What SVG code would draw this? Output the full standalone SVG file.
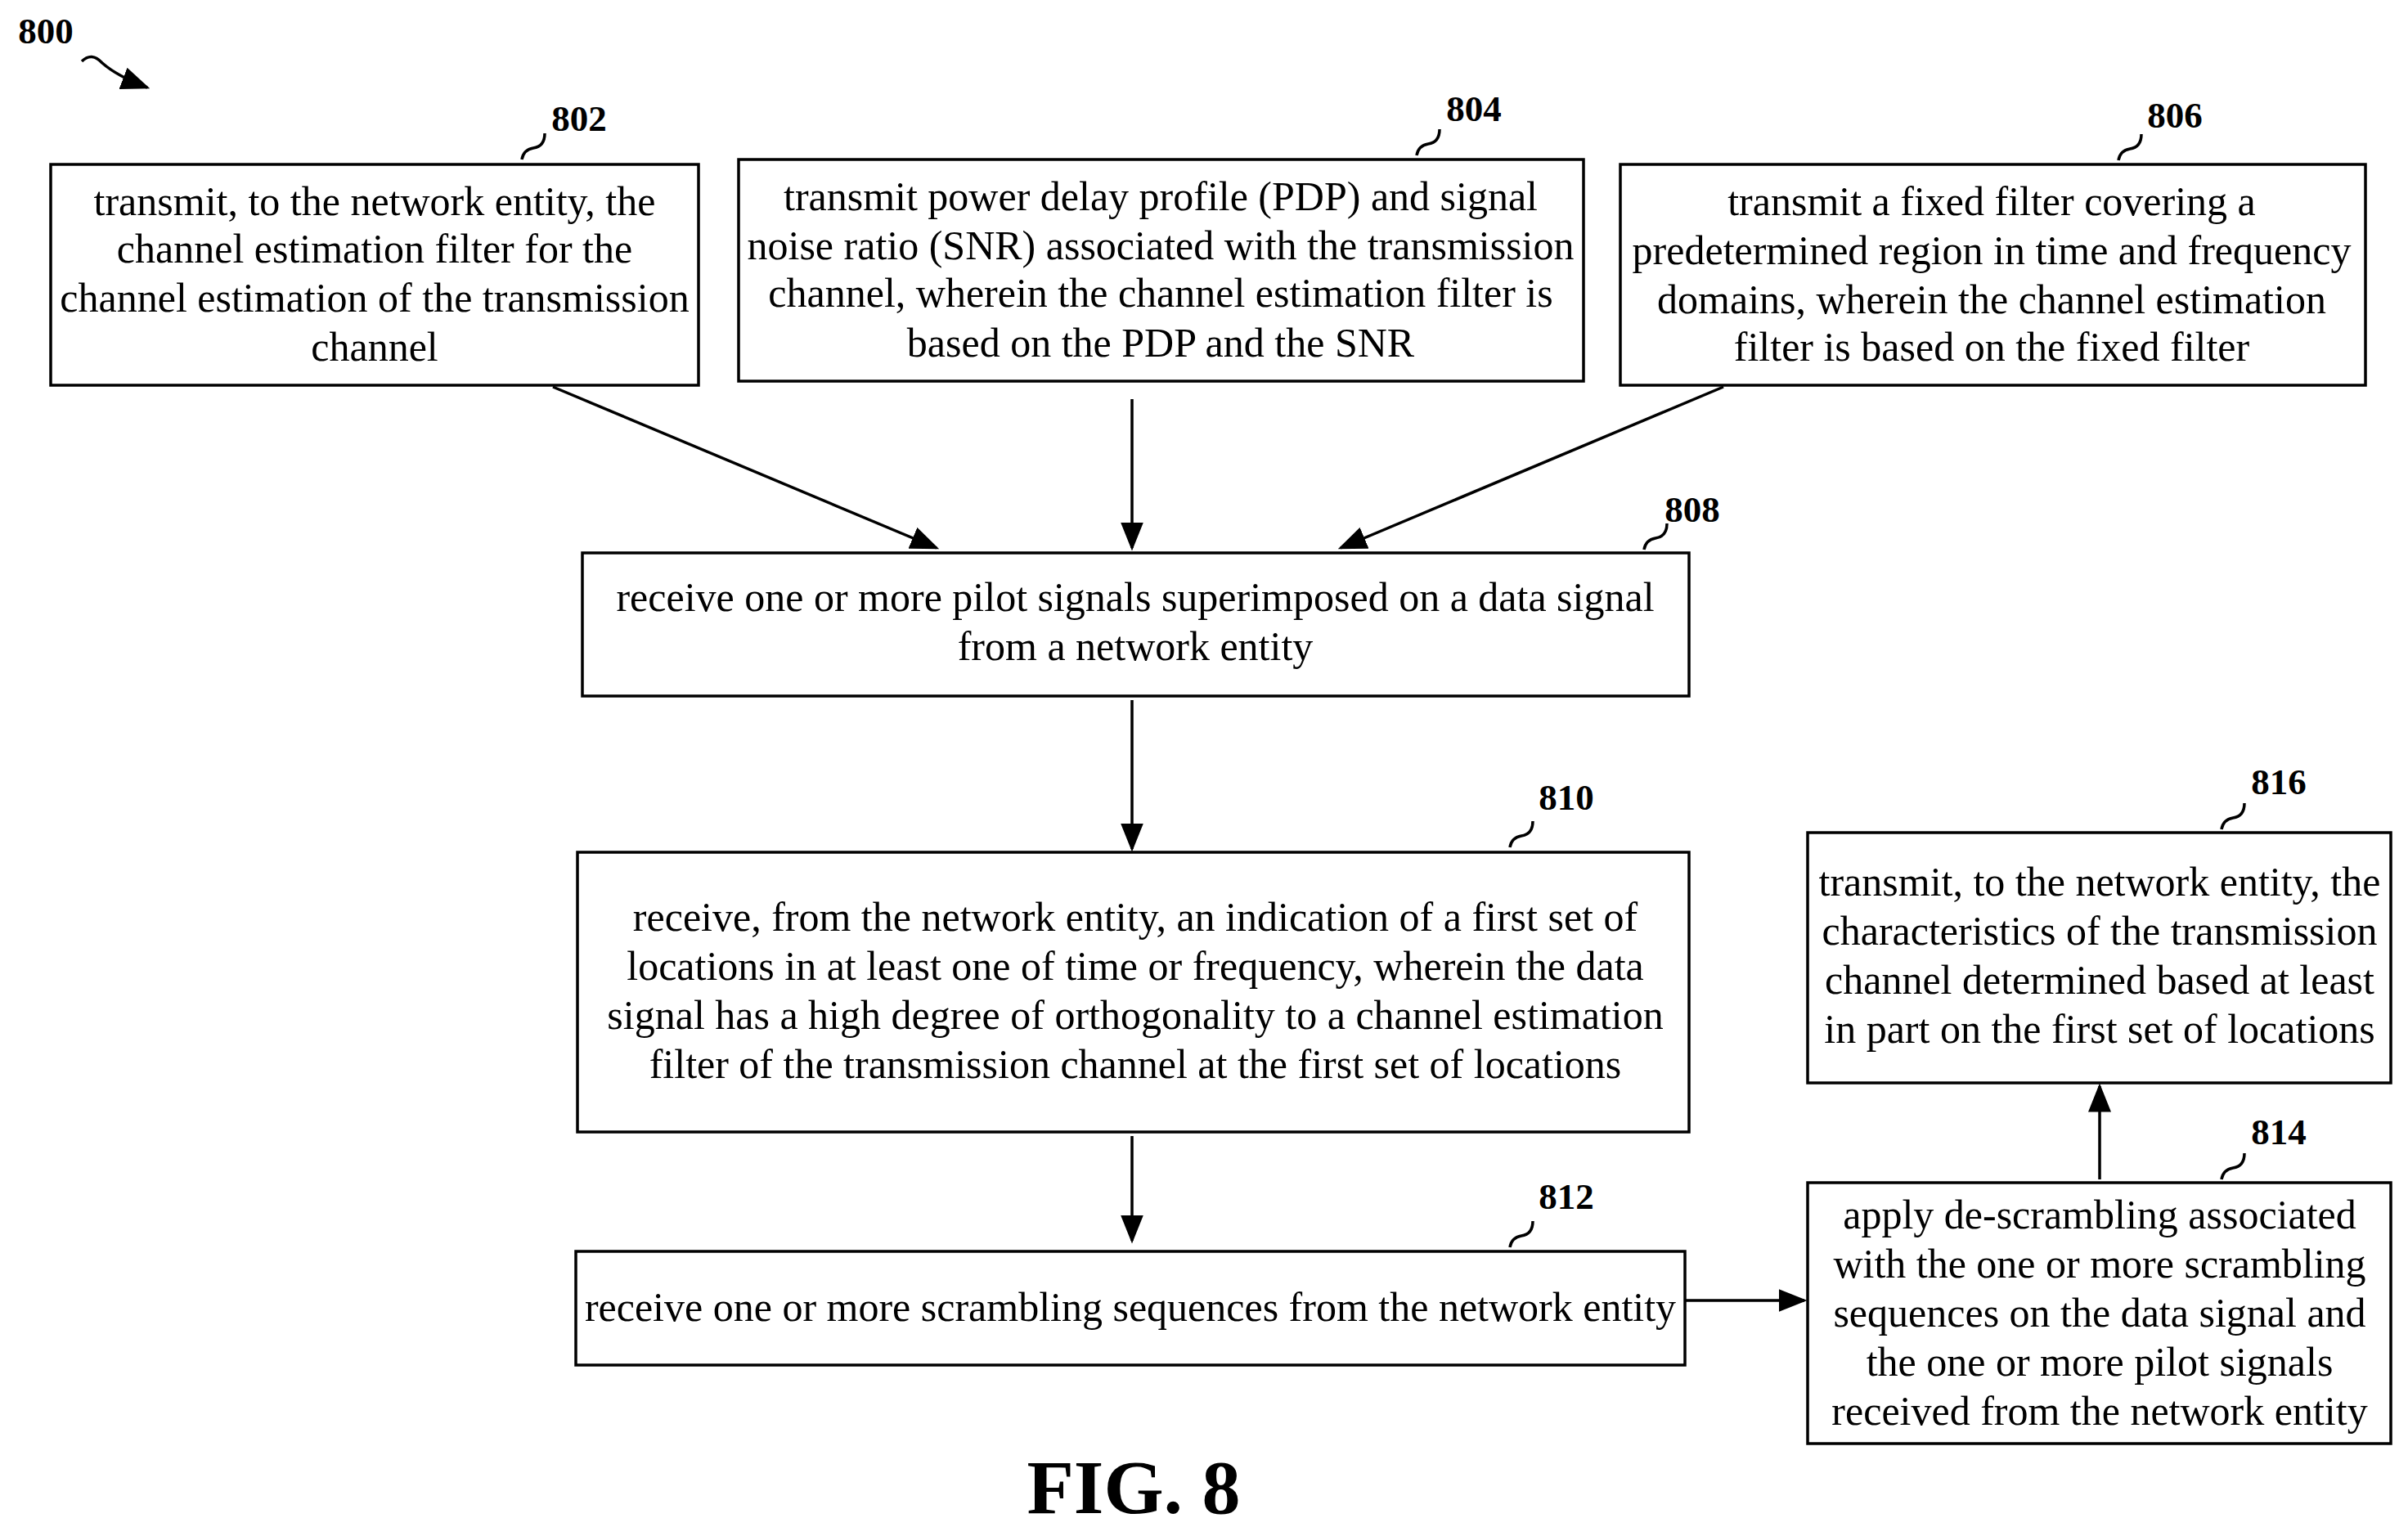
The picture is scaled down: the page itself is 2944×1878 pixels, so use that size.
<svg xmlns="http://www.w3.org/2000/svg" width="2944" height="1878" viewBox="0 0 2944 1878">
<style>
.b{fill:#fff;stroke:#000;stroke-width:3.5}
.t{font-family:"Liberation Serif",serif;font-size:50px;text-anchor:middle;fill:#000}
.l{font-family:"Liberation Serif",serif;font-size:45px;font-weight:bold;text-anchor:middle;fill:#000}
.c{fill:none;stroke:#000;stroke-width:3.5}
</style>
<defs><marker id="a" markerWidth="10" markerHeight="8" refX="9" refY="4" orient="auto" markerUnits="strokeWidth"><path d="M0,0L10,4L0,8z" fill="#000"/></marker></defs>
<text class="l" x="56" y="53">800</text>
<path class="c" d="M100,75 q12,-12 25,2 q18,16 55,30" marker-end="url(#a)"/>
<g id="n802"><rect class="b" x="62" y="201" width="792" height="270"/>
<text class="t"><tspan x="458" y="263">transmit, to the network entity, the</tspan><tspan x="458" y="321">channel estimation filter for the</tspan><tspan x="458" y="381">channel estimation of the transmission</tspan><tspan x="458" y="441">channel</tspan></text>
<path class="c" d="M638,195 q2,-12 14,-14 q14,-2 14,-18"/><text class="l" x="708" y="160">802</text></g>
<g id="n804"><rect class="b" x="903" y="195" width="1033" height="271"/>
<text class="t"><tspan x="1419" y="257">transmit power delay profile (PDP) and signal</tspan><tspan x="1419" y="317">noise ratio (SNR) associated with the transmission</tspan><tspan x="1419" y="375">channel, wherein the channel estimation filter is</tspan><tspan x="1419" y="436">based on the PDP and the SNR</tspan></text>
<path class="c" d="M1732,190 q2,-12 14,-14 q14,-2 14,-18"/><text class="l" x="1802" y="148">804</text></g>
<g id="n806"><rect class="b" x="1981" y="201" width="911" height="270"/>
<text class="t"><tspan x="2435" y="263">transmit a fixed filter covering a</tspan><tspan x="2435" y="323">predetermined region in time and frequency</tspan><tspan x="2435" y="383">domains, wherein the channel estimation</tspan><tspan x="2435" y="441">filter is based on the fixed filter</tspan></text>
<path class="c" d="M2590,196 q2,-12 14,-14 q14,-2 14,-18"/><text class="l" x="2659" y="156">806</text></g>
<g id="n808"><rect class="b" x="712" y="676" width="1353" height="175"/>
<text class="t"><tspan x="1388" y="747">receive one or more pilot signals superimposed on a data signal</tspan><tspan x="1388" y="807">from a network entity</tspan></text>
<path class="c" d="M2010,672 q2,-12 14,-14 q14,-2 14,-18"/><text class="l" x="2069" y="638">808</text></g>
<g id="n810"><rect class="b" x="706" y="1042" width="1359" height="342"/>
<text class="t"><tspan x="1388" y="1138">receive, from the network entity, an indication of a first set of</tspan><tspan x="1388" y="1198">locations in at least one of time or frequency, wherein the data</tspan><tspan x="1388" y="1258">signal has a high degree of orthogonality to a channel estimation</tspan><tspan x="1388" y="1318">filter of the transmission channel at the first set of locations</tspan></text>
<path class="c" d="M1846,1036 q2,-12 14,-14 q14,-2 14,-18"/><text class="l" x="1915" y="990">810</text></g>
<g id="n812"><rect class="b" x="704" y="1530" width="1356" height="139"/>
<text class="t" x="1382" y="1615">receive one or more scrambling sequences from the network entity</text>
<path class="c" d="M1846,1525 q2,-12 14,-14 q14,-2 14,-18"/><text class="l" x="1915" y="1478">812</text></g>
<g id="n814"><rect class="b" x="2210" y="1446" width="713" height="319"/>
<text class="t"><tspan x="2567" y="1502">apply de-scrambling associated</tspan><tspan x="2567" y="1562">with the one or more scrambling</tspan><tspan x="2567" y="1622">sequences on the data signal and</tspan><tspan x="2567" y="1682">the one or more pilot signals</tspan><tspan x="2567" y="1742">received from the network entity</tspan></text>
<path class="c" d="M2716,1442 q2,-12 14,-14 q14,-2 14,-18"/><text class="l" x="2786" y="1399">814</text></g>
<g id="n816"><rect class="b" x="2210" y="1018" width="713" height="306"/>
<text class="t"><tspan x="2567" y="1095">transmit, to the network entity, the</tspan><tspan x="2567" y="1155">characteristics of the transmission</tspan><tspan x="2567" y="1215">channel determined based at least</tspan><tspan x="2567" y="1275">in part on the first set of locations</tspan></text>
<path class="c" d="M2716,1014 q2,-12 14,-14 q14,-2 14,-18"/><text class="l" x="2786" y="971">816</text></g>
<g id="connectors">
<line class="c" x1="676" y1="473" x2="1145" y2="670" marker-end="url(#a)"/>
<line class="c" x1="1384" y1="488" x2="1384" y2="670" marker-end="url(#a)"/>
<line class="c" x1="2107" y1="473" x2="1639" y2="670" marker-end="url(#a)"/>
<line class="c" x1="1384" y1="856" x2="1384" y2="1038" marker-end="url(#a)"/>
<line class="c" x1="1384" y1="1389" x2="1384" y2="1517" marker-end="url(#a)"/>
<line class="c" x1="2060" y1="1590" x2="2206" y2="1590" marker-end="url(#a)"/>
<line class="c" x1="2567" y1="1442" x2="2567" y2="1328" marker-end="url(#a)"/>
</g>
<text class="l" x="1386" y="1850" style="font-size:94px">FIG. 8</text>
</svg>
